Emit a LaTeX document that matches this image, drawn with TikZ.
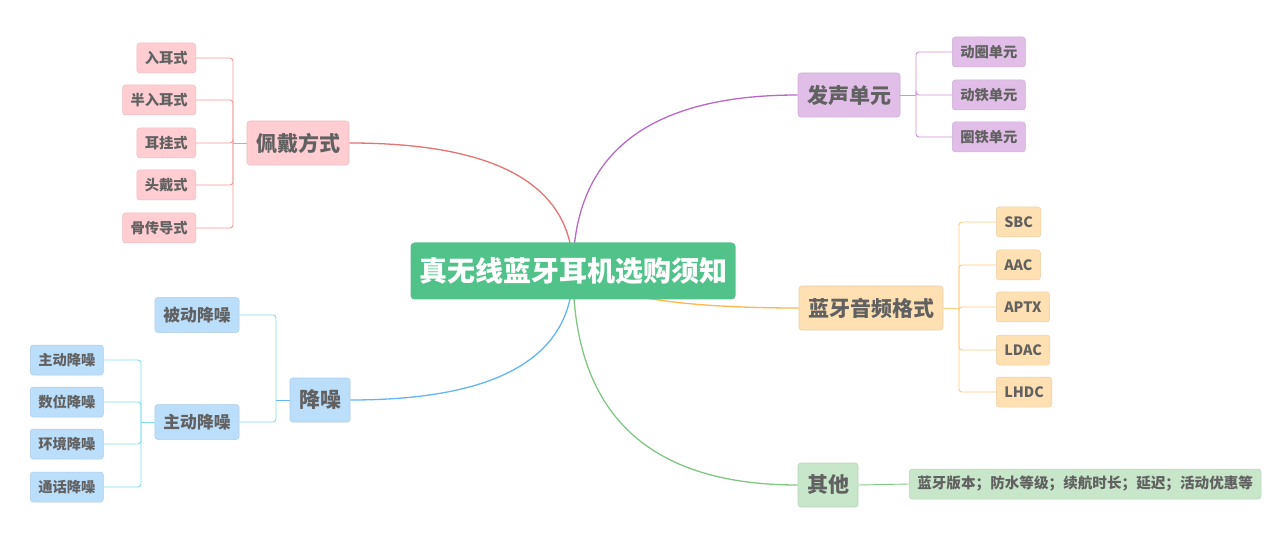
\documentclass[tikz,border=0pt]{standalone}
\usepackage{fontspec}
\setmainfont{Noto Sans CJK SC}
\usepackage{xcolor}
\usetikzlibrary{positioning,calc,backgrounds}

\definecolor{rootgreen}{RGB}{82,194,139}
\definecolor{txtgray}{RGB}{97,97,97}
\definecolor{pinkfill}{RGB}{255,205,210}
\definecolor{pinkline}{RGB}{229,115,115}
\definecolor{pinksub}{RGB}{239,154,154}
\definecolor{purpfill}{RGB}{225,190,231}
\definecolor{purpline}{RGB}{186,104,200}
\definecolor{purpsub}{RGB}{206,147,216}
\definecolor{orfill}{RGB}{255,224,178}
\definecolor{orline}{RGB}{255,183,77}
\definecolor{orsub}{RGB}{255,204,128}
\definecolor{grfill}{RGB}{200,230,201}
\definecolor{grline}{RGB}{129,199,132}
\definecolor{blfill}{RGB}{187,222,251}
\definecolor{blline}{RGB}{100,181,246}
\definecolor{blsub}{RGB}{128,222,234}

\begin{document}
\begin{tikzpicture}[
  x=1pt, y=-1pt,
  root/.style={rectangle, rounded corners=4pt, fill=rootgreen, text=white,
               font=\fontsize{28}{28}\selectfont\bfseries,
               minimum height=57pt, inner xsep=8.5pt},
  topic/.style={rectangle, rounded corners=3pt, line width=0.6pt, text=txtgray,
                font=\fontsize{21}{21}\selectfont\bfseries,
                minimum height=44pt, inner xsep=9pt},
  sub/.style={rectangle, rounded corners=3pt, line width=0.5pt, text=txtgray,
              font=\fontsize{16.8}{17}\selectfont\bfseries,
              minimum height=35pt, inner xsep=8.5pt},
  leaf/.style={rectangle, rounded corners=3pt, line width=0.5pt, text=txtgray,
               font=\fontsize{14.3}{14.3}\selectfont\bfseries,
               minimum height=30pt, inner xsep=8pt},
  pinkbox/.style={fill=pinkfill, draw=pinkfill!92!black},
  purpbox/.style={fill=purpfill, draw=purpfill!92!black},
  orbox/.style={fill=orfill, draw=orfill!92!black},
  grbox/.style={fill=grfill, draw=grfill!92!black},
  blbox/.style={fill=blfill, draw=blfill!92!black},
  mainline/.style={line width=1.3pt},
  subline/.style={line width=0.9pt, rounded corners=3pt}
]
\useasboundingbox (0,0) rectangle (1269,553);

% root
\node[root] (root) at (573,271) {真无线蓝牙耳机选购须知};

% main topics
\node[topic,pinkbox] (wear)  at (298,143) {佩戴方式};
\node[topic,purpbox] (sound) at (849,95)  {发声单元};
\node[topic,orbox]   (codec) at (871,308) {蓝牙音频格式};
\node[topic,grbox]   (other) at (828,485) {其他};
\node[topic,blbox]   (noise) at (320,400) {降噪};

% wearing styles
\node[leaf,pinkbox,anchor=east] (w1) at (196,58)  {入耳式};
\node[leaf,pinkbox,anchor=east] (w2) at (196,100) {半入耳式};
\node[leaf,pinkbox,anchor=east] (w3) at (196,143) {耳挂式};
\node[leaf,pinkbox,anchor=east] (w4) at (196,185) {头戴式};
\node[leaf,pinkbox,anchor=east] (w5) at (196,228) {骨传导式};

% drivers
\node[leaf,purpbox,anchor=west] (s1) at (952,52)  {动圈单元};
\node[leaf,purpbox,anchor=west] (s2) at (952,95)  {动铁单元};
\node[leaf,purpbox,anchor=west] (s3) at (952,137) {圈铁单元};

% codecs
\node[leaf,orbox,anchor=west] (c1) at (996,222) {SBC};
\node[leaf,orbox,anchor=west] (c2) at (996,265) {AAC};
\node[leaf,orbox,anchor=west] (c3) at (996,307) {APTX};
\node[leaf,orbox,anchor=west] (c4) at (996,350) {LDAC};
\node[leaf,orbox,anchor=west] (c5) at (996,392) {LHDC};

% other
\node[leaf,grbox,anchor=west,font=\fontsize{14.6}{14.6}\selectfont\bfseries]
  (misc) at (909,484) {蓝牙版本；防水等级；续航时长；延迟；活动优惠等};

% noise cancelling
\node[sub,blbox] (passive) at (197,315) {被动降噪};
\node[sub,blbox] (active)  at (197,422) {主动降噪};
\node[leaf,blbox,anchor=west] (a1) at (30,360) {主动降噪};
\node[leaf,blbox,anchor=west] (a2) at (30,402) {数位降噪};
\node[leaf,blbox,anchor=west] (a3) at (30,444) {环境降噪};
\node[leaf,blbox,anchor=west] (a4) at (30,487) {通话降噪};

% curves from the root (quadratic bends)
\coordinate (kw) at (wear.east -| root.center);
\coordinate (ks) at (sound.west -| root.center);
\coordinate (kc) at (codec.west -| 615,0);
\coordinate (ko) at (other.west -| root.center);
\coordinate (kn) at (noise.east -| root.center);
\begin{scope}[on background layer]
\draw[mainline,pinkline] (wear.east)
  .. controls ($(wear.east)!2/3!(kw)$) and ($(root.center)!2/3!(kw)$) .. (root.center);
\draw[mainline,purpline] (sound.west)
  .. controls ($(sound.west)!2/3!(ks)$) and ($(root.center)!2/3!(ks)$) .. (root.center);
\draw[mainline,orline] (codec.west)
  .. controls ($(codec.west)!2/3!(kc)$) and ($(root.center)!2/3!(kc)$) .. (root.center);
\draw[mainline,grline] (other.west)
  .. controls ($(other.west)!2/3!(ko)$) and ($(root.center)!2/3!(ko)$) .. (root.center);
\draw[mainline,blline] (noise.east)
  .. controls ($(noise.east)!2/3!(kn)$) and ($(root.center)!2/3!(kn)$) .. (root.center);
\end{scope}

% elbow connectors
\coordinate (wbar) at (233,143);
\coordinate (sbar) at (916,95);
\coordinate (cbar) at (959,308);
\coordinate (nbar) at (276,400);
\coordinate (abar) at (141,422);

\draw[subline,pinksub] (wear.west) -- (wbar);
\foreach \n in {w1,w2,w3,w4,w5}
  \draw[subline,pinksub] (wbar) |- (\n.east);

\draw[subline,purpsub] (sound.east) -- (sbar);
\foreach \n in {s1,s2,s3}
  \draw[subline,purpsub] (sbar) |- (\n.west);

\draw[subline,orsub] (codec.east) -- (cbar);
\foreach \n in {c1,c2,c3,c4,c5}
  \draw[subline,orsub] (cbar) |- (\n.west);

\draw[subline,grline] (other.east) -- (misc.west);

\draw[subline,blline] (noise.west) -- (nbar);
\draw[subline,blsub] (nbar) |- (passive.east);
\draw[subline,blsub] (nbar) |- (active.east);

\draw[subline,blsub] (active.west) -- (abar);
\foreach \n in {a1,a2,a3,a4}
  \draw[subline,blsub] (abar) |- (\n.east);
\end{tikzpicture}
\end{document}
